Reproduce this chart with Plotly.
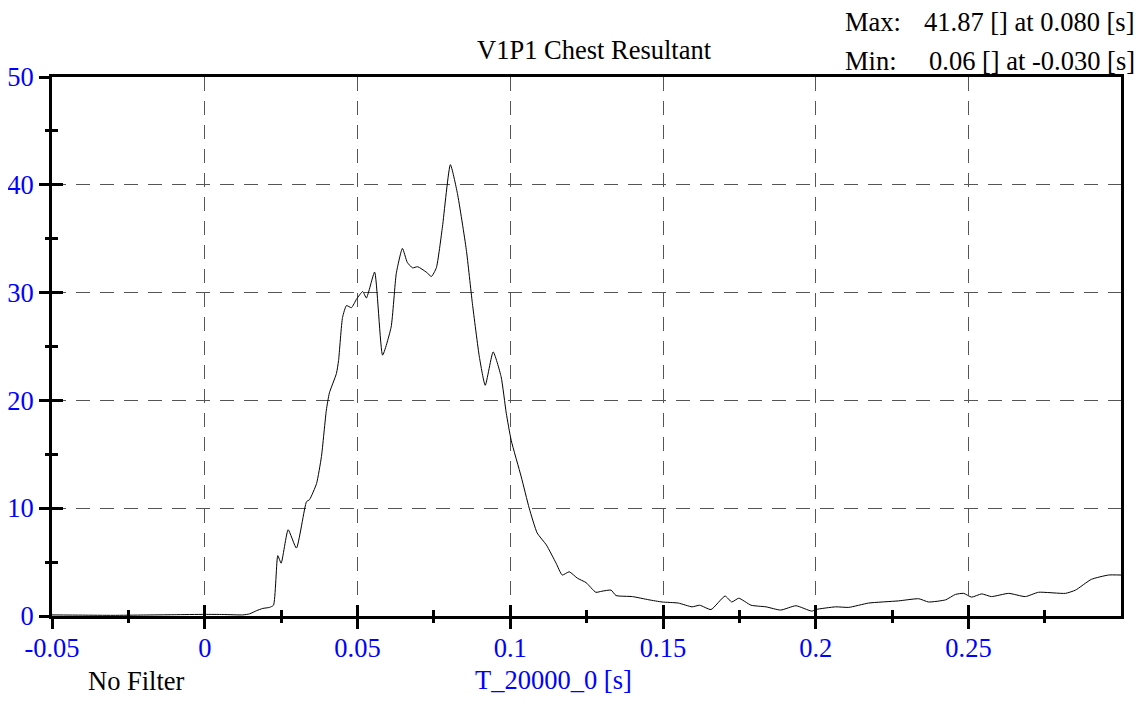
import plotly.graph_objects as go

# time [s] and chest resultant []
t_s = [-0.05, -0.04, -0.03, -0.02, -0.01, 0.0, 0.006, 0.0124, 0.0147, 0.017,
       0.019, 0.0212, 0.0225, 0.0239, 0.025, 0.0273, 0.030, 0.0333, 0.0343, 0.0366,
       0.0382, 0.0398, 0.0408, 0.0431, 0.0438, 0.0451, 0.0464, 0.048, 0.0497, 0.0517,
       0.0529, 0.0556, 0.0582, 0.061, 0.0627, 0.0647, 0.0663, 0.068, 0.0697, 0.0725,
       0.0742, 0.0758, 0.0778, 0.0804, 0.0827, 0.0856, 0.0876, 0.0899, 0.0918, 0.0944,
       0.097, 0.0987, 0.1003, 0.1036, 0.1062, 0.1088, 0.1118, 0.115, 0.117, 0.1193,
       0.122, 0.1248, 0.128, 0.130, 0.133, 0.1346, 0.14, 0.1454, 0.1497, 0.155,
       0.1595, 0.162, 0.1657, 0.1703, 0.1725, 0.1748, 0.1788, 0.1837, 0.1885, 0.1935,
       0.1987, 0.2, 0.2065, 0.2108, 0.2173, 0.227, 0.2337, 0.2369, 0.2425, 0.2457,
       0.2484, 0.251, 0.2543, 0.2575, 0.2631, 0.2686, 0.2729, 0.2817, 0.285, 0.2902,
       0.2958, 0.2999]
chest = [0.10, 0.08, 0.06, 0.09, 0.12, 0.15, 0.14, 0.10, 0.2, 0.5,
         0.7, 0.8, 1.0, 5.6, 4.9, 8.0, 6.3, 10.6, 10.8, 12.3,
         14.8, 19.1, 20.7, 22.5, 23.7, 27.7, 28.8, 28.6, 29.4, 30.1,
         29.5, 31.9, 24.2, 26.8, 31.8, 34.1, 32.8, 32.3, 32.4, 31.9,
         31.5, 32.3, 36.1, 41.87, 39.2, 34.0, 29.0, 24.0, 21.4, 24.5,
         22.2, 18.8, 16.3, 12.9, 10.0, 7.7, 6.6, 4.9, 3.8, 4.1,
         3.5, 3.1, 2.2, 2.3, 2.4, 1.9, 1.8, 1.5, 1.3, 1.2,
         0.85, 1.0, 0.6, 1.85, 1.3, 1.65, 1.0, 0.85, 0.55, 0.95,
         0.45, 0.6, 0.85, 0.8, 1.2, 1.4, 1.6, 1.3, 1.5, 2.0,
         2.1, 1.75, 2.05, 1.8, 2.1, 1.8, 2.2, 2.1, 2.4, 3.4,
         3.8, 3.8]

x_ticks = [-0.05, 0, 0.05, 0.1, 0.15, 0.2, 0.25]
x_tick_labels = ["-0.05", "0", "0.05", "0.1", "0.15", "0.2", "0.25"]
y_ticks = [0, 10, 20, 30, 40, 50]

FONT = "Liberation Serif"
BLUE = "#0000ff"
FS = 26.5

fig = go.Figure()
fig.add_trace(go.Scatter(x=t_s, y=chest, mode="lines",
                         line=dict(color="black", width=1, shape="spline", smoothing=0.5),
                         hoverinfo="skip", showlegend=False))
# invisible copy so the overlay axes (outside ticks) get drawn
fig.add_trace(go.Scatter(x=t_s, y=chest, mode="lines", xaxis="x2", yaxis="y2",
                         line=dict(color="rgba(0,0,0,0)", width=0),
                         hoverinfo="skip", showlegend=False))

grid = dict(showgrid=True, gridcolor="#555555", gridwidth=1, griddash="14px,10px")
tickfont = dict(family=FONT, color=BLUE, size=FS)

# page body has an 8px margin, so the figure is a bit smaller than the window
fig.update_layout(
    width=1130, height=688,
    margin=dict(l=44, r=17, t=69, b=80),
    plot_bgcolor="white", paper_bgcolor="white",
    font=dict(family=FONT, size=FS, color="black"),
    xaxis=dict(range=[-0.05, 0.2999], tickmode="array", tickvals=x_ticks,
               ticktext=x_tick_labels, zeroline=False, automargin=False,
               showline=True, linecolor="black", linewidth=3, mirror=True,
               ticks="inside", ticklen=11, tickwidth=3, tickcolor="black",
               ticklabelstandoff=6,
               minor=dict(dtick=0.025, tick0=0, ticks="inside", ticklen=6, tickwidth=3,
                          tickcolor="black", showgrid=False),
               tickfont=tickfont, **grid),
    yaxis=dict(range=[0, 50], tickmode="array", tickvals=y_ticks, zeroline=False,
               automargin=False,
               showline=True, linecolor="black", linewidth=3, mirror=True,
               ticks="inside", ticklen=11, tickwidth=3, tickcolor="black",
               ticklabelstandoff=10,
               minor=dict(dtick=5, tick0=0, ticks="inside", ticklen=6, tickwidth=3,
                          tickcolor="black", showgrid=False),
               tickfont=tickfont, **grid),
    xaxis2=dict(overlaying="x", matches="x", anchor="y", side="bottom",
                showgrid=False, zeroline=False, showticklabels=False, automargin=False,
                ticks="outside", ticklen=12, tickwidth=3, tickcolor="black",
                tickmode="array", tickvals=x_ticks,
                minor=dict(dtick=0.025, tick0=0, ticks="outside", ticklen=6, tickwidth=3,
                           tickcolor="black", showgrid=False)),
    yaxis2=dict(overlaying="y", matches="y", anchor="x", side="left",
                showgrid=False, zeroline=False, showticklabels=False, automargin=False,
                ticks="outside", ticklen=12, tickwidth=3, tickcolor="black",
                tickmode="array", tickvals=y_ticks,
                minor=dict(dtick=5, tick0=0, ticks="outside", ticklen=6, tickwidth=3,
                           tickcolor="black", showgrid=False)),
)

notes = [
    dict(text="V1P1 Chest Resultant", x=0.5075, y=1.050, xanchor="center", color="black"),
    dict(text="Max:", x=0.740, y=1.102, xanchor="left", color="black"),
    dict(text="41.87 [] at 0.080 [s]", x=1.0145, y=1.102, xanchor="right", color="black"),
    dict(text="Min:", x=0.740, y=1.030, xanchor="left", color="black"),
    dict(text="0.06 [] at -0.030 [s]", x=1.0145, y=1.030, xanchor="right", color="black"),
    dict(text="T_20000_0 [s]", x=0.4687, y=-0.119, xanchor="center", color=BLUE),
    dict(text="No Filter", x=0.0795, y=-0.121, xanchor="center", color="black"),
]
for n in notes:
    fig.add_annotation(text=n["text"], x=n["x"], y=n["y"], xref="paper", yref="paper",
                       xanchor=n["xanchor"], yanchor="middle", showarrow=False,
                       font=dict(family=FONT, size=FS, color=n["color"]))

fig.write_html("out.html")
